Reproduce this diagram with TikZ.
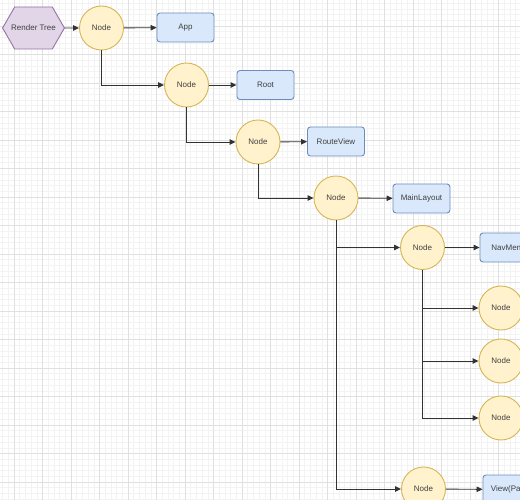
\documentclass[tikz,border=0pt]{standalone}
\usepackage{fontspec}
\setmainfont{Liberation Sans}
\usetikzlibrary{arrows.meta, shapes.symbols}

\definecolor{nodefill}{HTML}{FFF2CC}
\definecolor{nodeline}{HTML}{D6B656}
\definecolor{compfill}{HTML}{DAE8FC}
\definecolor{compline}{HTML}{6C8EBF}
\definecolor{hexfill}{HTML}{E1D5E7}
\definecolor{hexline}{HTML}{9673A6}
\definecolor{gridminor}{HTML}{F3F3F3}
\definecolor{gridmajor}{HTML}{E0E0E0}

\begin{document}
\begin{tikzpicture}[x=1pt, y=1pt,
        font=\fontsize{8}{9}\selectfont, text=black!75,
        treenode/.style={draw=nodeline, fill=nodefill, circle, line width=0.9pt, minimum size=44pt, inner sep=0pt},
        comp/.style={draw=compline, fill=compfill, line width=0.9pt, rounded corners=3pt, minimum width=57pt, minimum height=29pt, inner sep=0pt},
        hexa/.style={draw=hexline, fill=hexfill, line width=0.9pt, signal, signal to=west and east, signal pointer angle=120, minimum height=42pt, inner xsep=-3.5pt, inner ysep=0pt},
        link/.style={draw=black!80, line width=0.9pt, -{Triangle[length=6pt, width=5.5pt]}}]
        \useasboundingbox (0,0) rectangle (520,-500);
        \clip (0,0) rectangle (520,-500);
        \fill[white] (0,0) rectangle (520,-500);

        % grid
        \foreach \i in {-2,...,89} \draw[gridminor, line width=0.6pt] ({14+5.7*\i},0) -- ++(0,-500);
        \foreach \i in {1,...,88} \draw[gridminor, line width=0.6pt] (0,{2.5-5.7*\i}) -- ++(520,0);
        \foreach \i in {0,...,18} \draw[gridmajor, line width=0.6pt] ({14+28.5*\i},0) -- ++(0,-500);
        \foreach \i in {1,...,17} \draw[gridmajor, line width=0.6pt] (0,{2.5-28.5*\i}) -- ++(520,0);

        \node[hexa] (tree) at (33.5, -28) {Render Tree};

        \node[treenode] (n1) at (101.5, -28) {Node};
        \node[comp] (app) at (185.5, -27.5) {App};

        \node[treenode] (n2) at (186.5, -85) {Node};
        \node[comp] (root) at (265.5, -85) {Root};

        \node[treenode] (n3) at (258, -142) {Node};
        \node[comp] (routeview) at (336, -141.5) {RouteView};

        \node[treenode] (n4) at (336, -198) {Node};
        \node[comp] (mainlayout) at (421.5, -198.5) {MainLayout};

        \node[treenode] (n5) at (422.5, -247.5) {Node};
        \node[comp] (navmenu) at (508.5, -247.5) {NavMenu};

        \node[treenode] (n50) at (501, -308) {Node};
        \node[treenode] (n51) at (501, -361) {Node};
        \node[treenode] (n52) at (501, -418) {Node};

        \node[treenode] (n6) at (423.5, -489) {Node};
        \node[comp] (view) at (511.5, -489.5) {View(Page)};


        \draw[link] (tree) -- (n1);

        \draw[link] (n1) -- (app);
        \draw[link] (n2) -- (root);
        \draw[link] (n3) -- (routeview);
        \draw[link] (n4) -- (mainlayout);
        \draw[link] (n5) -- (navmenu);
        \draw[link] (n6) -- (view);

        \draw[link] (n1) |- (n2);
        \draw[link] (n2) |- (n3);
        \draw[link] (n3) |- (n4);
        \draw[link] (n4) |- (n5);
        \draw[link] (n4) |- (n6);

        \draw[link] (n5) |- (n50);
        \draw[link] (n5) |- (n51);
        \draw[link] (n5) |- (n52);
    \end{tikzpicture}
\end{document}
